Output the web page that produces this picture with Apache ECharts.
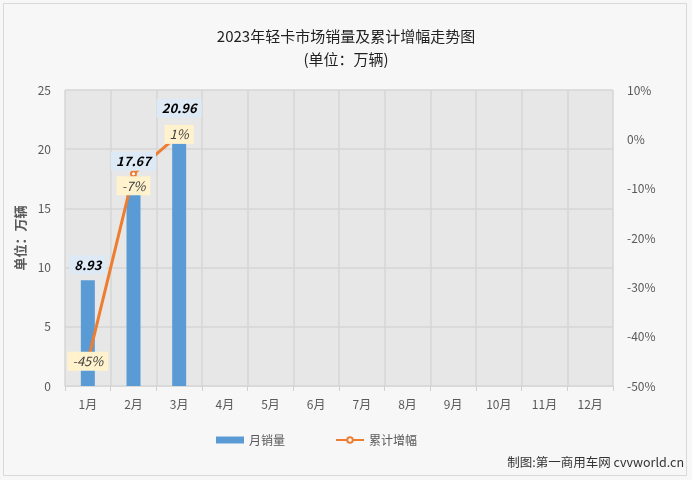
<!DOCTYPE html>
<html><head><meta charset="utf-8">
<script src="https://cdn.jsdelivr.net/npm/echarts@6/dist/echarts.min.js"></script>
<style>html,body{margin:0;padding:0;background:#fff}#c{width:692px;height:480px}</style>
</head><body><div id="c"></div>
<script>
const categories = ['1月','2月','3月','4月','5月','6月','7月','8月','9月','10月','11月','12月'];
const sales = [8.93, 17.67, 20.96];
const growth = [-45, -7, 1];
const leftTicks = [0, 25, 5];
const rightTicks = [-50, 10, 10];

const font = 'Noto Sans CJK SC, sans-serif';
const chart = echarts.init(document.getElementById('c'));
const lineLabelOffsets = [[0, 0], [0, 12], [0, 0]];
const barLabelOffsets = [[0, 0], [0, 0], [0, -14]];
chart.setOption({
  backgroundColor: '#f7f7f7',
  animation: false,
  title: {
    text: '2023年轻卡市场销量及累计增幅走势图\n(单位：万辆)',
    left: 'center', top: 20,
    textStyle: {fontFamily: font, fontSize: 15, fontWeight: 'normal', color: '#222', lineHeight: 23}
  },
  graphic: [
    {type: 'rect', shape: {x: 3.5, y: 3.5, width: 683, height: 472}, style: {fill: 'none', stroke: '#d9d9d9', lineWidth: 1}, z: -1},
    {type: 'text', right: 8, top: 456, style: {text: '制图:第一商用车网 cvvworld.cn', font: '12.5px ' + font, fill: '#333'}}
  ],
  legend: {
    bottom: 29, left: 211, itemGap: 50, itemWidth: 28, itemHeight: 7,
    textStyle: {fontFamily: font, fontSize: 12, color: '#595959'},
    data: [
      {name: '月销量', icon: 'rect'},
      {name: '累计增幅'}
    ]
  },
  grid: {left: 65, right: 79, top: 90, bottom: 94, show: true, backgroundColor: '#e7e7e7', borderWidth: 0},
  xAxis: {
    type: 'category', data: categories,
    axisLine: {lineStyle: {color: '#d9d9d9'}},
    axisTick: {show: true, length: 5, lineStyle: {color: '#d0d0d0'}},
    axisLabel: {color: '#595959', fontFamily: font, fontSize: 12, margin: 12},
    splitLine: {show: true, interval: 0, lineStyle: {color: '#d6d6d6', width: 1.5}}
  },
  yAxis: [
    {
      type: 'value', min: leftTicks[0], max: leftTicks[1], interval: leftTicks[2],
      name: '单位：万辆', nameLocation: 'middle', nameGap: 30, nameRotate: 90,
      nameTextStyle: {color: '#595959', fontFamily: font, fontSize: 13, fontWeight: 'bold'},
      axisLine: {show: false}, axisTick: {show: false},
      axisLabel: {color: '#595959', fontFamily: font, fontSize: 12, margin: 14},
      splitLine: {lineStyle: {color: '#d6d6d6', width: 1.5}}
    },
    {
      type: 'value', min: rightTicks[0], max: rightTicks[1], interval: rightTicks[2],
      axisLine: {show: false}, axisTick: {show: false},
      axisLabel: {color: '#595959', fontFamily: font, fontSize: 12, margin: 14, formatter: '{value}%'},
      splitLine: {show: false}
    }
  ],
  series: [
    {
      name: '月销量', type: 'bar', barWidth: 14, yAxisIndex: 0, z: 2,
      itemStyle: {color: '#5b9bd5'},
      data: sales
    },
    {
      name: '累计增幅', type: 'line', yAxisIndex: 1,
      symbol: 'circle', symbolSize: 5,
      itemStyle: {color: '#fff', borderColor: '#ed7d31', borderWidth: 2},
      lineStyle: {color: '#ed7d31', width: 3},
      data: growth.map((v, i) => ({value: v, label: {offset: lineLabelOffsets[i]}})),
      z: 3,
      label: {
        show: true, position: 'inside',
        formatter: p => p.value + '%',
        fontFamily: font, fontSize: 13, fontStyle: 'italic', color: '#404040',
        backgroundColor: '#fff2cc', padding: [3, 5]
      }
    },
    {
      name: '月销量标签', type: 'bar', barWidth: 14, barGap: '-100%', yAxisIndex: 0, z: 5,
      itemStyle: {color: 'rgba(0,0,0,0)'},
      silent: true,
      data: sales.map((v, i) => ({value: v, label: {offset: barLabelOffsets[i]}})),
      label: {
        show: true, position: 'top', distance: 6,
        fontFamily: font, fontSize: 13, fontWeight: 'bold', fontStyle: 'italic', color: '#000',
        backgroundColor: '#dde9f5', padding: [3, 5]
      }
    }
  ]
});
</script></body></html>
